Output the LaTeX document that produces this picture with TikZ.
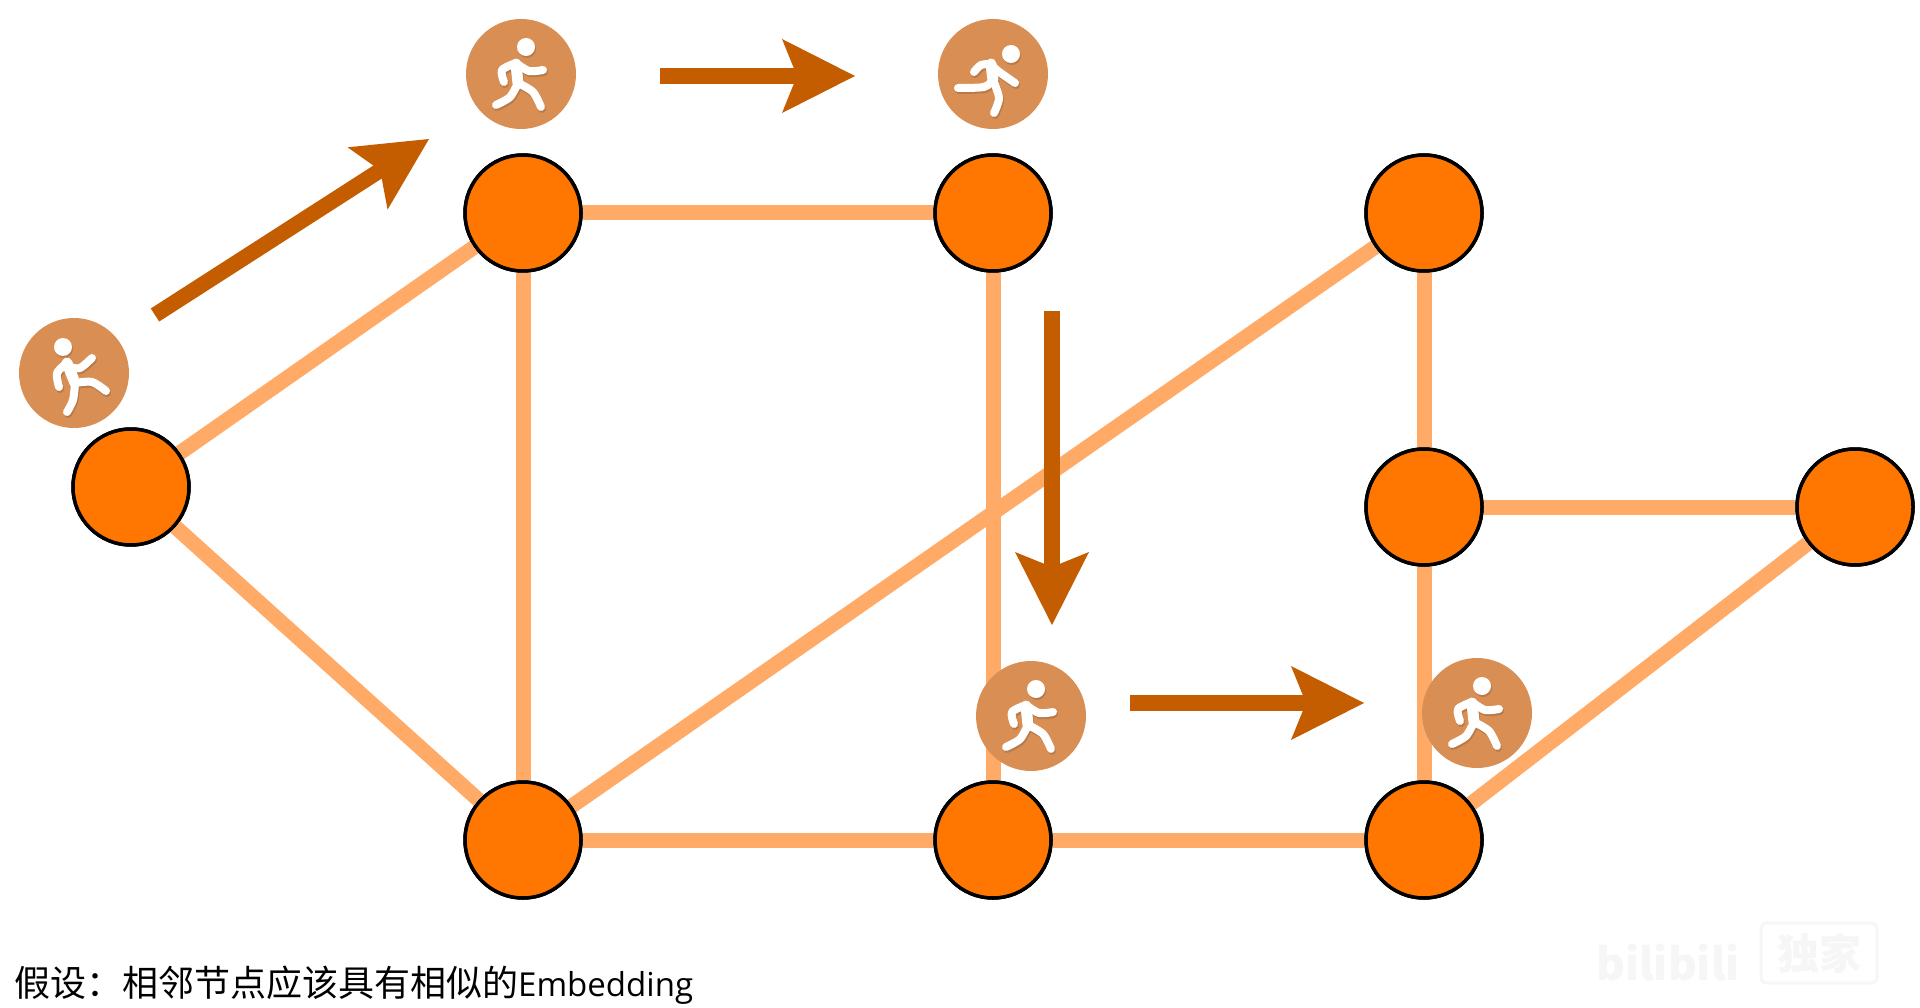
\documentclass[tikz,border=0pt]{standalone}
\usepackage{fontspec}
\setmainfont{Noto Sans CJK SC}
\newfontfamily\latinfont{Open Sans}
\usetikzlibrary{arrows.meta}
\definecolor{nodeorange}{HTML}{FF7700}
\definecolor{edgeorange}{HTML}{FFAA66}
\definecolor{arrowbrown}{HTML}{C45C00}
\definecolor{runnerbrown}{HTML}{D98F54}
\definecolor{runnershadow}{HTML}{B87A48}
\definecolor{wmark}{HTML}{F6F6F6}
\newcommand{\figdraw}[1]{%
  \begin{scope}[shift={(1,2)},draw=runnershadow,fill=runnershadow,line cap=round,line join=round,line width=8pt]#1\end{scope}%
  \begin{scope}[draw=white,fill=white,line cap=round,line join=round,line width=8pt]#1\end{scope}}
\tikzset{
  x=1pt,y=-1pt,
  graphnode/.style={circle,draw=black,line width=3.5pt,fill=nodeorange,minimum size=116pt,inner sep=0pt},
  edge/.style={draw=edgeorange,line width=15pt},
  walker/.style={circle,fill=runnerbrown,minimum size=110pt,inner sep=0pt},
  movearrow/.style={draw=arrowbrown,line width=15.5pt,-{Stealth[length=73pt,width=74pt,inset=15pt,line width=0pt,fill=arrowbrown]}},
  strideA/.pic={\figdraw{
    \fill (5,-27) circle (9);
    \draw[line width=11pt] (-5,-10) -- (-3,9);
    \draw plot[smooth] coordinates {(-5,-11) (-19,-4) (-17,8)};
    \draw plot[smooth] coordinates {(-5,-11) (8,-3) (22,-4)};
    \draw plot[smooth] coordinates {(-3,9) (-11,23) (-25,31)};
    \draw plot[smooth] coordinates {(-3,9) (12,18) (20,33)};}},
  strideB/.pic={\figdraw{
    \fill (-11,-26) circle (9);
    \draw[line width=11pt] (-7,-10) -- (1,10);
    \draw plot[smooth] coordinates {(-7,-10) (-17,0) (-15,14)};
    \draw plot[smooth] coordinates {(-4,-6) (6,-5) (18,-15)};
    \draw plot[smooth] coordinates {(1,10) (-1,27) (-7,39)};
    \draw plot[smooth] coordinates {(1,10) (18,9) (32,18)};}},
  strideC/.pic={\figdraw{
    \fill (18,-20) circle (9);
    \draw[line width=11pt] (-2,-10) -- (0,6);
    \draw plot[smooth] coordinates {(-2,-10) (-12,-9) (-19,-2)};
    \draw plot[smooth] coordinates {(-2,-10) (5,-3) (22,9)};
    \draw plot[smooth] coordinates {(0,6) (-9,13) (-35,14)};
    \draw plot[smooth] coordinates {(0,6) (6,24) (1,39)};}},
}
\begin{document}
\begin{tikzpicture}
\useasboundingbox[fill=white] (0,0) rectangle (1920,1008);
\node[graphnode] (a) at (131,487) {};
\node[graphnode] (b) at (523,213) {};
\node[graphnode] (c) at (993,213) {};
\node[graphnode] (d) at (1424,213) {};
\node[graphnode] (e) at (1424,507) {};
\node[graphnode] (f) at (1855,507) {};
\node[graphnode] (g) at (523,840) {};
\node[graphnode] (h) at (993,840) {};
\node[graphnode] (i) at (1424,840) {};
\begin{scope}[on background layer/.style={}]
\end{scope}
\foreach \u/\v in {a/b,a/g,b/c,b/g,c/h,d/g,d/e,e/f,e/i,f/i,g/h,h/i}
  \draw[edge] (\u) -- (\v);
% redraw nodes above their connectors
\foreach \n/\p in {a/{131,487},b/{523,213},c/{993,213},d/{1424,213},e/{1424,507},f/{1855,507},g/{523,840},h/{993,840},i/{1424,840}}
  \node[graphnode] at (\p) {};
\node[walker] (w1) at (74,373) {};
\node[walker] (w2) at (521,74) {};
\node[walker] (w3) at (993,74) {};
\node[walker] (w4) at (1031,716) {};
\node[walker] (w5) at (1477,713) {};
\pic at (w1) {strideB};
\pic at (w2) {strideA};
\pic at (w3) {strideC};
\pic at (w4) {strideA};
\pic at (w5) {strideA};
\coordinate (s1) at (155,315); \coordinate (t1) at (429,139);
\coordinate (s2) at (660,76);  \coordinate (t2) at (855,76);
\coordinate (s3) at (1052,311);\coordinate (t3) at (1052,625);
\coordinate (s4) at (1130,703);\coordinate (t4) at (1364,703);
\draw[movearrow] (s1) -- (t1);
\draw[movearrow] (s2) -- (t2);
\draw[movearrow] (s3) -- (t3);
\draw[movearrow] (s4) -- (t4);
\node[anchor=base west,inner sep=0pt,font=\fontsize{36pt}{36pt}\selectfont] (cap) at (14,996) {假设：相邻节点应该具有相似的{\latinfont\fontsize{33pt}{33pt}\selectfont Embedding}};
\node[anchor=base west,inner sep=0pt,text=wmark,font=\fontsize{44pt}{44pt}\selectfont\bfseries] (wm1) at (1596,980) {bilibili};
\node[draw=wmark,fill=white,rounded corners=6pt,line width=3pt,minimum width=116pt,minimum height=60pt,inner sep=0pt,text=wmark,font=\fontsize{42pt}{42pt}\selectfont\bfseries] (wm2) at (1819,953) {独家};
\end{tikzpicture}
\end{document}
